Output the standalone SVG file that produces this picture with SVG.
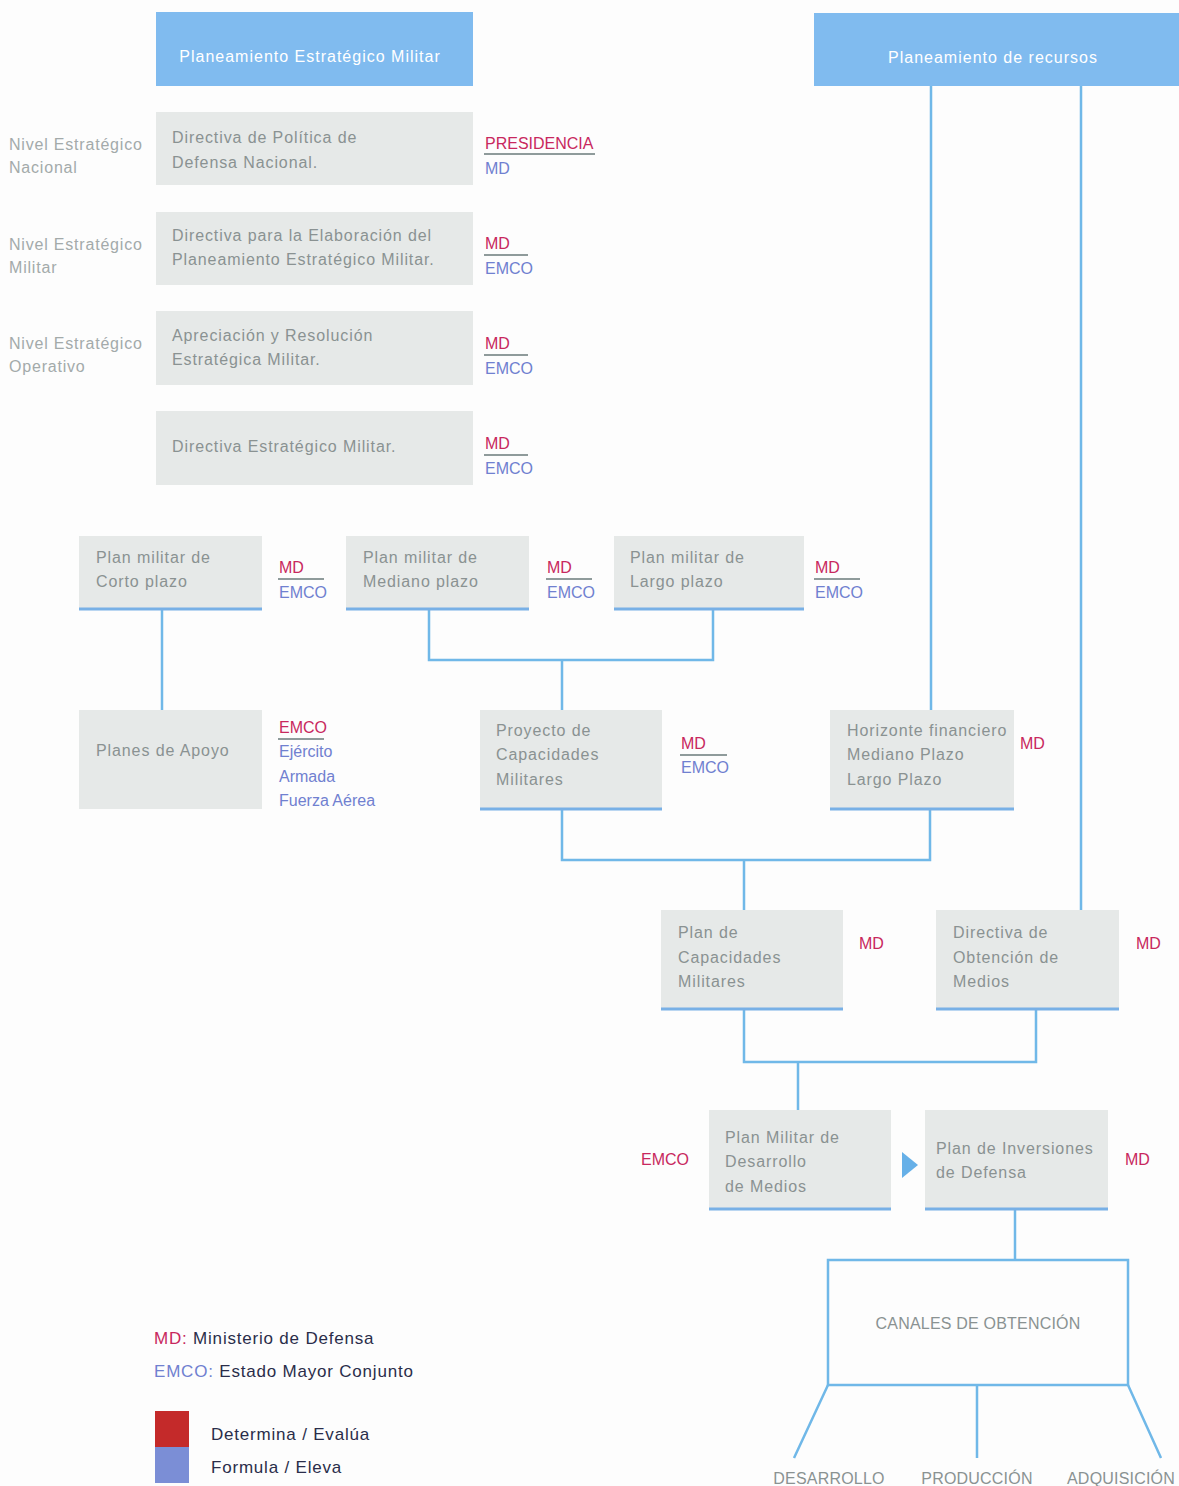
<svg xmlns="http://www.w3.org/2000/svg" width="1179" height="1486" viewBox="0 0 1179 1486">
<style>
text{font-family:"Liberation Sans","Noto Sans",Arial,sans-serif}
.hdr{fill:#80bbef}
.ht{fill:#ffffff;font-size:16px;text-anchor:middle;letter-spacing:1px}
.box{fill:#e6e9e8}
.bl{stroke:#78b0e6;stroke-width:3}
.t{fill:#8a9292;font-size:16px;letter-spacing:0.9px}
.lv{fill:#a3aaaa;font-size:16px;letter-spacing:0.8px}
.md{fill:#c8285e;font-size:16px}
.em{fill:#7080d0;font-size:16px}
.ul{stroke:#6a7a7a;stroke-width:1.5}
.c{fill:none;stroke:#70b8e8;stroke-width:2.5}
.cap{fill:#8a9292;font-size:16px;letter-spacing:0.2px}
.leg{fill:#2a2d4a;font-size:17px;letter-spacing:0.8px}
</style>
<rect width="1179" height="1486" fill="#fdfdfd"/>
<g id="connectors">
<path class="c" d="M931 86V710M1081 86V910"/>
<path class="c" d="M162 610V710"/>
<path class="c" d="M429 610V660H713V610M562 660V710"/>
<path class="c" d="M562 810V860H930V810M744 860V910"/>
<path class="c" d="M744 1010V1062H1036V1010M798 1062V1110"/>
<path class="c" d="M1015 1210V1260"/>
<path class="c" d="M828 1385L794 1458M977 1385V1458M1128 1385L1161 1458"/>
<polygon points="902,1152 918,1165 902,1178" fill="#66b0e8"/>
</g>
<g id="hdr-militar"><rect class="hdr" x="156" y="12" width="317" height="74"/><text class="ht" x="310" y="62">Planeamiento Estratégico Militar</text></g>
<g id="hdr-recursos"><rect class="hdr" x="814" y="13" width="365" height="73"/><text class="ht" x="993" y="63">Planeamiento de recursos</text></g>
<g id="levels">
<text class="lv" x="9" y="150">Nivel Estratégico</text><text class="lv" x="9" y="173">Nacional</text>
<text class="lv" x="9" y="250">Nivel Estratégico</text><text class="lv" x="9" y="273">Militar</text>
<text class="lv" x="9" y="349">Nivel Estratégico</text><text class="lv" x="9" y="372">Operativo</text>
</g>
<g id="n-politica"><rect class="box" x="156" y="112" width="317" height="73"/><text class="t" x="172" y="143">Directiva de Política de</text><text class="t" x="172" y="168">Defensa Nacional.</text>
<text class="md" x="485" y="149">PRESIDENCIA</text><line class="ul" x1="484" y1="154" x2="595" y2="154"/><text class="em" x="485" y="174">MD</text></g>
<g id="n-elaboracion"><rect class="box" x="156" y="212" width="317" height="73"/><text class="t" x="172" y="241">Directiva para la Elaboración del</text><text class="t" x="172" y="265">Planeamiento Estratégico Militar.</text>
<text class="md" x="485" y="249">MD</text><line class="ul" x1="484" y1="255" x2="528" y2="255"/><text class="em" x="485" y="274">EMCO</text></g>
<g id="n-apreciacion"><rect class="box" x="156" y="311" width="317" height="74"/><text class="t" x="172" y="341">Apreciación y Resolución</text><text class="t" x="172" y="365">Estratégica Militar.</text>
<text class="md" x="485" y="349">MD</text><line class="ul" x1="484" y1="355" x2="528" y2="355"/><text class="em" x="485" y="374">EMCO</text></g>
<g id="n-directiva"><rect class="box" x="156" y="411" width="317" height="74"/><text class="t" x="172" y="452">Directiva Estratégico Militar.</text>
<text class="md" x="485" y="449">MD</text><line class="ul" x1="484" y1="455" x2="528" y2="455"/><text class="em" x="485" y="474">EMCO</text></g>
<g id="n-corto"><rect class="box" x="79" y="536" width="183" height="74"/><line class="bl" x1="79" y1="609" x2="262" y2="609"/><text class="t" x="96" y="563">Plan militar de</text><text class="t" x="96" y="587">Corto plazo</text>
<text class="md" x="279" y="573">MD</text><line class="ul" x1="278" y1="579" x2="324" y2="579"/><text class="em" x="279" y="598">EMCO</text></g>
<g id="n-mediano"><rect class="box" x="346" y="536" width="183" height="74"/><line class="bl" x1="346" y1="609" x2="529" y2="609"/><text class="t" x="363" y="563">Plan militar de</text><text class="t" x="363" y="587">Mediano plazo</text>
<text class="md" x="547" y="573">MD</text><line class="ul" x1="546" y1="579" x2="592" y2="579"/><text class="em" x="547" y="598">EMCO</text></g>
<g id="n-largo"><rect class="box" x="614" y="536" width="190" height="74"/><line class="bl" x1="614" y1="609" x2="804" y2="609"/><text class="t" x="630" y="563">Plan militar de</text><text class="t" x="630" y="587">Largo plazo</text>
<text class="md" x="815" y="573">MD</text><line class="ul" x1="814" y1="579" x2="860" y2="579"/><text class="em" x="815" y="598">EMCO</text></g>
<g id="n-apoyo"><rect class="box" x="79" y="710" width="183" height="99"/><text class="t" x="96" y="756">Planes de Apoyo</text>
<text class="md" x="279" y="733">EMCO</text><line class="ul" x1="278" y1="739" x2="324" y2="739"/><text class="em" x="279" y="757">Ejército</text><text class="em" x="279" y="782">Armada</text><text class="em" x="279" y="806">Fuerza Aérea</text></g>
<g id="n-proyecto"><rect class="box" x="480" y="710" width="182" height="100"/><line class="bl" x1="480" y1="809" x2="662" y2="809"/><text class="t" x="496" y="736">Proyecto de</text><text class="t" x="496" y="760">Capacidades</text><text class="t" x="496" y="785">Militares</text>
<text class="md" x="681" y="749">MD</text><line class="ul" x1="680" y1="755" x2="727" y2="755"/><text class="em" x="681" y="773">EMCO</text></g>
<g id="n-horizonte"><rect class="box" x="830" y="710" width="184" height="100"/><line class="bl" x1="830" y1="809" x2="1014" y2="809"/><text class="t" x="847" y="736">Horizonte financiero</text><text class="t" x="847" y="760">Mediano Plazo</text><text class="t" x="847" y="785">Largo Plazo</text>
<text class="md" x="1020" y="749">MD</text></g>
<g id="n-plancap"><rect class="box" x="661" y="910" width="182" height="100"/><line class="bl" x1="661" y1="1009" x2="843" y2="1009"/><text class="t" x="678" y="938">Plan de</text><text class="t" x="678" y="963">Capacidades</text><text class="t" x="678" y="987">Militares</text>
<text class="md" x="859" y="949">MD</text></g>
<g id="n-obtencion"><rect class="box" x="936" y="910" width="183" height="100"/><line class="bl" x1="936" y1="1009" x2="1119" y2="1009"/><text class="t" x="953" y="938">Directiva de</text><text class="t" x="953" y="963">Obtención de</text><text class="t" x="953" y="987">Medios</text>
<text class="md" x="1136" y="949">MD</text></g>
<g id="n-desarrollo"><rect class="box" x="709" y="1110" width="182" height="100"/><line class="bl" x1="709" y1="1209" x2="891" y2="1209"/><text class="t" x="725" y="1143">Plan Militar de</text><text class="t" x="725" y="1167">Desarrollo</text><text class="t" x="725" y="1192">de Medios</text>
<text class="md" x="641" y="1165">EMCO</text></g>
<g id="n-inversiones"><rect class="box" x="925" y="1110" width="183" height="100"/><line class="bl" x1="925" y1="1209" x2="1108" y2="1209"/><text class="t" x="936" y="1154">Plan de Inversiones</text><text class="t" x="936" y="1178">de Defensa</text>
<text class="md" x="1125" y="1165">MD</text></g>
<g id="n-canales"><rect x="828" y="1260" width="300" height="125" fill="none" stroke="#70b8e8" stroke-width="2.5"/><text class="cap" x="978" y="1329" text-anchor="middle">CANALES DE OBTENCIÓN</text></g>
<g id="outputs">
<text class="cap" x="829" y="1484" text-anchor="middle">DESARROLLO</text>
<text class="cap" x="977" y="1484" text-anchor="middle">PRODUCCIÓN</text>
<text class="cap" x="1121" y="1484" text-anchor="middle">ADQUISICIÓN</text>
</g>
<g id="legend">
<text class="leg" x="154" y="1344"><tspan fill="#c8285e">MD:</tspan> Ministerio de Defensa</text>
<text class="leg" x="154" y="1377"><tspan fill="#7080d0">EMCO:</tspan> Estado Mayor Conjunto</text>
<rect x="155" y="1411" width="34" height="36" fill="#c42a2a"/>
<rect x="155" y="1447" width="34" height="36" fill="#7b8ed6"/>
<text class="leg" x="211" y="1440">Determina / Evalúa</text>
<text class="leg" x="211" y="1473">Formula / Eleva</text>
</g>
</svg>
